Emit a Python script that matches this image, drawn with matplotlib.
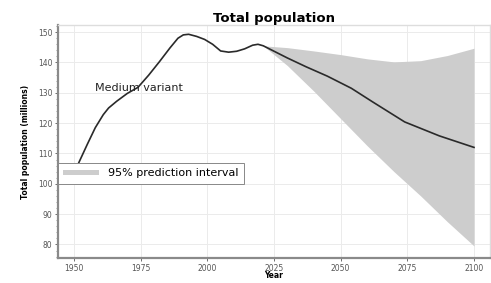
import matplotlib.pyplot as plt
from matplotlib.ticker import MultipleLocator

# medium variant, estimates + projection (millions)
years = [1950, 1952, 1955, 1958, 1961, 1963, 1966, 1970, 1974, 1978, 1982, 1986, 1989, 1991, 1993,
         1996, 1999, 2002, 2005, 2008, 2011, 2014, 2017, 2019, 2021,
         2030, 2037, 2045, 2054, 2062, 2074, 2087, 2100]
medium = [103.5, 107.3, 113.0, 118.5, 122.8, 125.0, 127.2, 129.8, 131.8, 135.8, 140.2, 144.8, 148.0, 149.1, 149.3,
          148.6, 147.6, 146.0, 143.8, 143.4, 143.7, 144.5, 145.7, 146.0, 145.5,
          141.5, 138.6, 135.5, 131.5, 127.0, 120.4, 115.8, 112.0]

# 95% prediction interval
pi_years = [2021, 2030, 2040, 2050, 2060, 2070, 2080, 2090, 2100]
pi_low = [145.5, 139.0, 130.5, 121.5, 112.5, 104.0, 96.0, 87.5, 79.5]
pi_high = [145.5, 144.9, 143.8, 142.6, 141.2, 140.2, 140.6, 142.3, 144.7]

fig = plt.figure(figsize=(4.91, 2.83), dpi=100)
ax = fig.add_axes([0.118, 0.088, 0.88, 0.823])

ax.fill_between(pi_years, pi_low, pi_high, color='#cdcdcd', lw=0,
                label='95% prediction interval')
ax.plot(years, medium, color='#2a2a2a', lw=1.2)

ax.text(1958, 131.5, 'Medium variant', fontsize=8, color='#222222', va='center')

ax.set_xlim(1944, 2106)
ax.set_ylim(75.5, 152.3)
ax.set_xticks([1950, 1975, 2000, 2025, 2050, 2075, 2100])
ax.set_yticks([80, 90, 100, 110, 120, 130, 140, 150])
ax.yaxis.set_minor_locator(MultipleLocator(2))
ax.tick_params(labelsize=5.5, colors='#555555', length=2, width=0.6, pad=2)
ax.tick_params(which='minor', length=1.2, width=0.5, colors='#777777')
ax.grid(True, color='#ebebeb', lw=0.7)
ax.set_axisbelow(True)

for s in ['left', 'bottom']:
    ax.spines[s].set_color('#8a8a8a')
    ax.spines[s].set_linewidth(1.6)
for s in ['top', 'right']:
    ax.spines[s].set_color('#dddddd')
    ax.spines[s].set_linewidth(1.0)

ax.set_title('Total population', fontsize=9.5, fontweight='bold', pad=2)
ax.set_xlabel('Year', fontsize=5.5, fontweight='bold', labelpad=-1)
ax.set_ylabel('Total population (millions)', fontsize=5.5, fontweight='bold', labelpad=6)

leg = ax.legend(loc='upper left', bbox_to_anchor=(0.0, 0.41), fontsize=8,
                frameon=True, fancybox=False, handlelength=3.2, handleheight=0.3,
                borderpad=0.5, borderaxespad=0, framealpha=1)
leg.get_frame().set_edgecolor('#888888')
leg.get_frame().set_linewidth(0.7)

fig.savefig('out.png', dpi=100)
